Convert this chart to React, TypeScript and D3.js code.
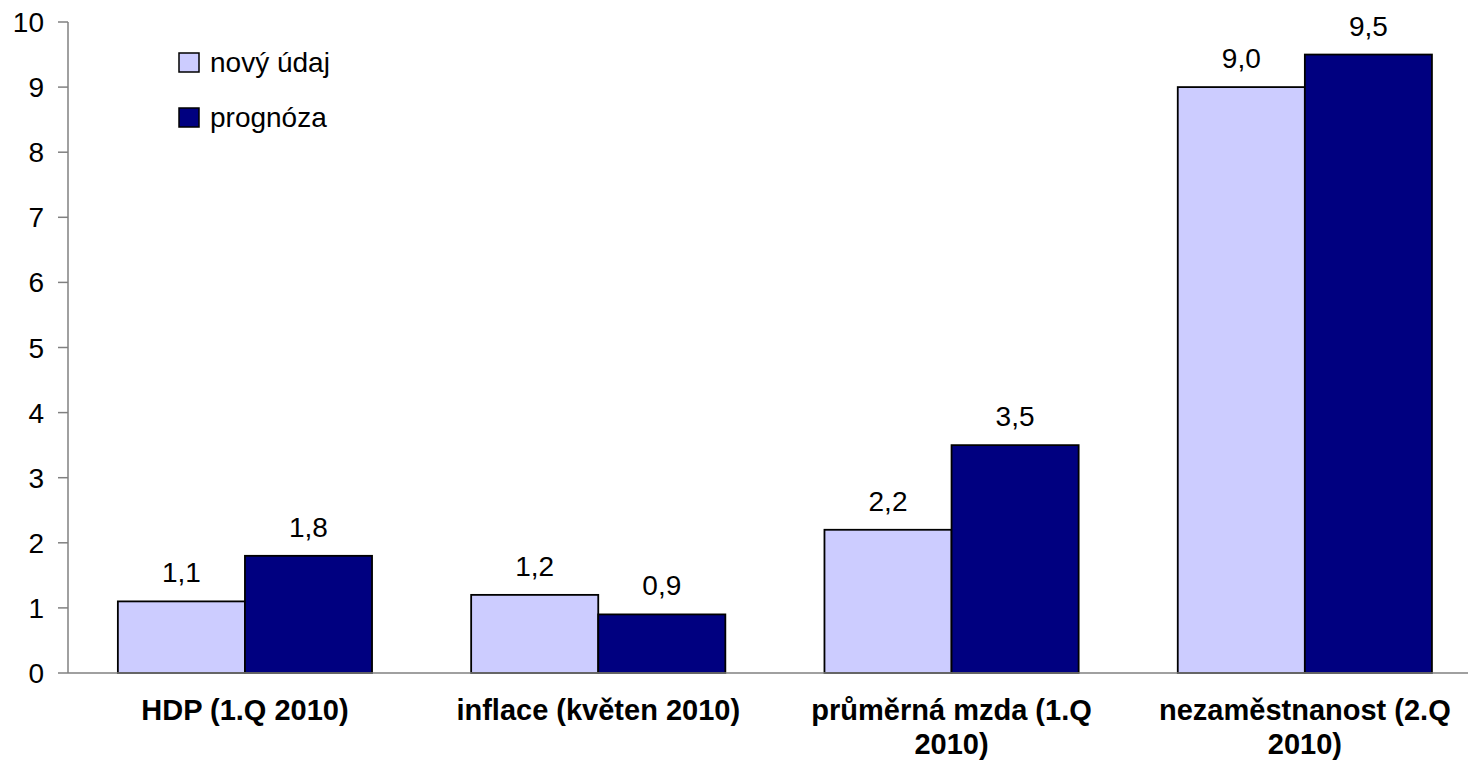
import React from "react";
import * as d3 from "d3";

const categories = ["HDP (1.Q 2010)", "inflace (květen 2010)", "průměrná mzda (1.Q 2010)", "nezaměstnanost (2.Q 2010)"];
const categoryLines = [
  ["HDP (1.Q 2010)"],
  ["inflace (květen 2010)"],
  ["průměrná mzda (1.Q", "2010)"],
  ["nezaměstnanost (2.Q", "2010)"],
];
const seriesNames = ["nový údaj", "prognóza"];
const novyUdaj = [1.1, 1.2, 2.2, 9.0];
const prognoza = [1.8, 0.9, 3.5, 9.5];
const yTicks = [0, 1, 2, 3, 4, 5, 6, 7, 8, 9, 10];
const colors = ["#CCCCFF", "#000080"];

const W = 1468;
const H = 768;
const FONT = "'Liberation Sans', Arial, sans-serif";

export default function App() {
  const y = d3.scaleLinear().domain([0, 10]).range([673, 22]);
  const x0 = d3.scaleBand<string>().domain(categories).range([68.3, 68.3 + 4 * 353.3]).padding(0);
  const x1 = d3.scaleBand<string>().domain(seriesNames).range([0, x0.bandwidth()]).paddingInner(0).paddingOuter(0.39);
  const values = [novyUdaj, prognoza];
  const fmt = (v: number) => v.toFixed(1).replace(".", ",");

  return (
    <svg width={W} height={H} style={{ position: "absolute", left: 0, top: 0, background: "#fff" }} fontFamily={FONT}>
      <rect x={0} y={0} width={W} height={H} fill="#fff" />
      {/* bars */}
      {categories.map((c, i) =>
        seriesNames.map((s, j) => {
          const v = values[j][i];
          const bx = (x0(c) as number) + (x1(s) as number);
          return (
            <rect key={c + s} x={bx} y={y(v)} width={x1.bandwidth()} height={y(0) - y(v)}
              fill={colors[j]} stroke="#000" strokeWidth={1.8} />
          );
        })
      )}
      {/* value labels */}
      {categories.map((c, i) =>
        seriesNames.map((s, j) => {
          const v = values[j][i];
          const cx = (x0(c) as number) + (x1(s) as number) + x1.bandwidth() / 2;
          return (
            <text key={"l" + c + s} x={cx} y={y(v) - 19} textAnchor="middle" fontSize={28} fill="#000">{fmt(v)}</text>
          );
        })
      )}
      {/* y axis */}
      <line x1={68} x2={68} y1={y(10)} y2={y(0)} stroke="#808080" strokeWidth={1.5} />
      {yTicks.map((t) => (
        <g key={t}>
          <line x1={58} x2={68} y1={y(t)} y2={y(t)} stroke="#808080" strokeWidth={1.5} />
          <text x={44} y={y(t) + 10} textAnchor="end" fontSize={28} fill="#000">{t}</text>
        </g>
      ))}
      {/* x axis */}
      <line x1={68} x2={W} y1={y(0)} y2={y(0)} stroke="#808080" strokeWidth={1.5} />
      {categories.map((c, i) => {
        const cx = (x0(c) as number) + x0.bandwidth() / 2;
        return (
          <text key={"c" + c} x={cx} textAnchor="middle" fontSize={29} fontWeight="bold" fill="#000">
            {categoryLines[i].map((line, k) => (
              <tspan key={k} x={cx} y={720 + k * 34}>{line}</tspan>
            ))}
          </text>
        );
      })}
      {/* legend */}
      {seriesNames.map((s, j) => (
        <g key={"lg" + s}>
          <rect x={179} y={53 + j * 55} width={20} height={19} fill={colors[j]} stroke="#000" strokeWidth={1.5} />
          <text x={210} y={72 + j * 55} fontSize={28} fill="#000">{s}</text>
        </g>
      ))}
    </svg>
  );
}
